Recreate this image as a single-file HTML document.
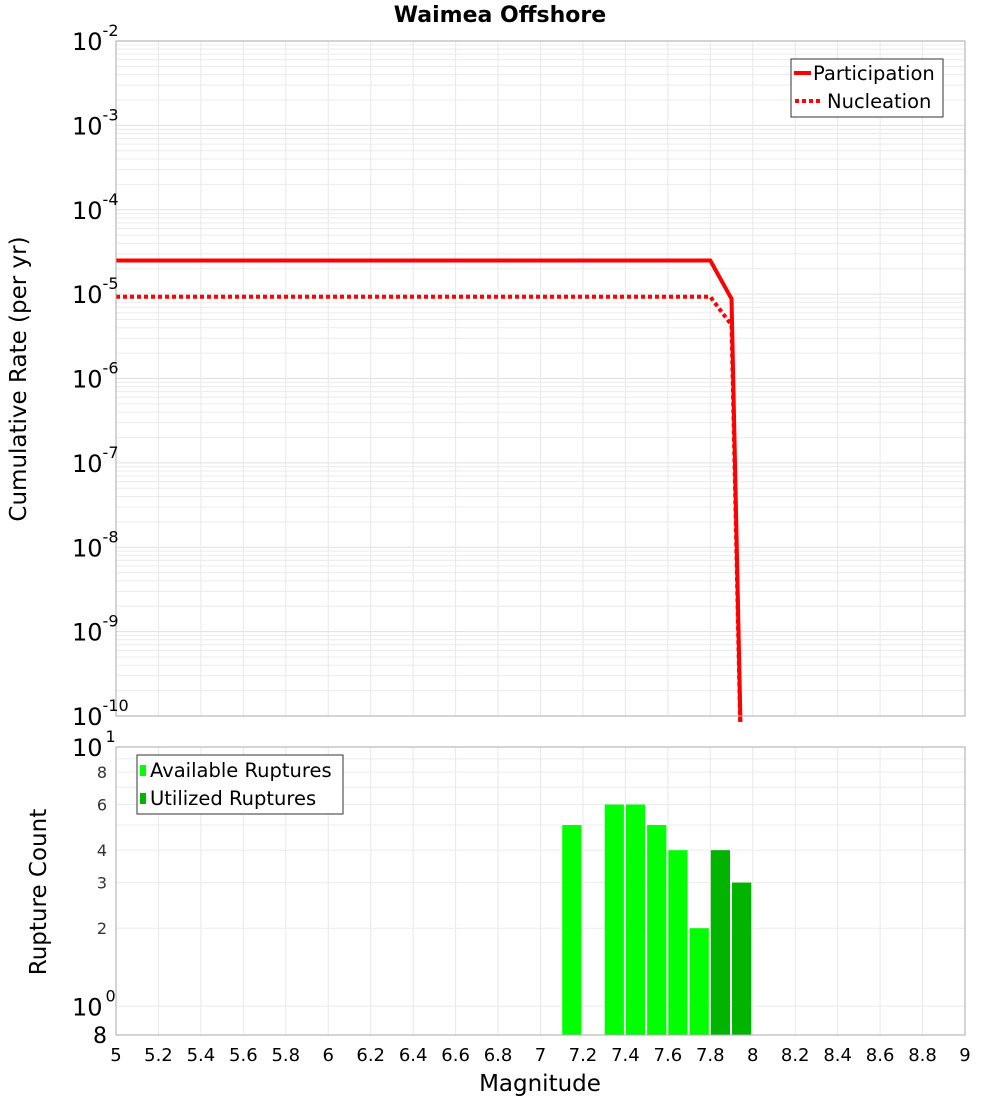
<!DOCTYPE html>
<html><head><meta charset="utf-8"><style>
html,body{margin:0;padding:0;background:#fff;overflow:hidden;width:1000px;height:1100px;font-family:"DejaVu Sans","Liberation Sans",sans-serif;}
svg{display:block;}
svg text{font-family:"DejaVu Sans","Liberation Sans",sans-serif;}
</style></head><body>
<svg id="c" width="1000" height="1100" xmlns="http://www.w3.org/2000/svg"></svg>
<script>
const mags=[5,7.8,7.9,8.0];
const partRates=[2.5e-5,2.5e-5,8.8e-6,1e-17];
const nuclRates=[9.3e-6,9.3e-6,4.3e-6,1e-17];
const binStarts=[7.1,7.2,7.3,7.4,7.5,7.6,7.7,7.8,7.9];
const availCounts=[5,0,6,6,5,4,2,0,0];
const utilCounts=[0,0,0,0,0,0,0,4,3];
const xTicks=[5,5.2,5.4,5.6,5.8,6,6.2,6.4,6.6,6.8,7,7.2,7.4,7.6,7.8,8,8.2,8.4,8.6,8.8,9];
const topExps=[-2,-3,-4,-5,-6,-7,-8,-9,-10];
const botTicks=[8,6,4,3,2];

const NS="http://www.w3.org/2000/svg";
const svg=document.getElementById('c');
function el(t,a,txt){const e=document.createElementNS(NS,t);for(const k in a)e.setAttribute(k,a[k]);if(txt!==undefined)e.textContent=txt;svg.appendChild(e);return e;}
const L=116,R=965,T1=41,B1=716,T2=747,B2=1035;
const x=m=>L+(m-5)/4*(R-L);
const y1=v=>T1+(-2-Math.log10(v))/8*(B1-T1);
const bMin=0.775;
const y2=v=>T2+(1-Math.log10(v))/(1-Math.log10(bMin))*(B2-T2);

for(let e=-10;e<-2;e++)for(let k=1;k<10;k++){const yy=y1(k*Math.pow(10,e));
 const g=el('line',{x1:L,x2:R,y1:yy,y2:yy,stroke:k==1?'#e0e0e0':'#ececec','stroke-width':1});
 }
xTicks.forEach(t=>{[[T1,B1],[T2,B2]].forEach(([a,b])=>{const g=el('line',{x1:x(t),x2:x(t),y1:a,y2:b,stroke:'#e8e8e8'});
 });});
[1,8,6,4,3,2,10,9,7,5].forEach(v=>{const yy=y2(v);const g=el('line',{x1:L,x2:R,y1:yy,y2:yy,stroke:'#ececec'});
 });

const defs=el('defs',{});
const cp=document.createElementNS(NS,'clipPath');cp.setAttribute('id','cp');
const cr=document.createElementNS(NS,'rect');cr.setAttribute('x',L);cr.setAttribute('y',T1);cr.setAttribute('width',R-L);cr.setAttribute('height',B1-T1+6);
cp.appendChild(cr);defs.appendChild(cp);

function line(rates,dash,name){
 const p=el('polyline',{points:mags.map((m,i)=>x(m)+','+y1(rates[i])).join(' '),fill:'none',stroke:'#ff0000','stroke-width':4,'clip-path':'url(#cp)'});
 if(dash)p.setAttribute('stroke-dasharray','4,3');
 }
line(nuclRates,true,'nucleation-line');
line(partRates,false,'participation-line');

binStarts.forEach((b,i)=>{[[availCounts[i],'#00ff00','available-bar'],[utilCounts[i],'#00b400','utilized-bar']].forEach(([v,c,n])=>{
 if(v<=0)return;const yy=y2(v);
 const r=el('rect',{x:x(b)+0.5,y:yy,width:x(b+0.1)-x(b)-2,height:B2-yy,fill:c});
 });});

[[T1,B1,'top-plot-frame'],[T2,B2,'bottom-plot-frame']].forEach(([a,b,n])=>{const r=el('rect',{x:L,y:a,width:R-L,height:b-a,fill:'none',stroke:'#aaaaaa'});
 });

topExps.forEach(e=>{const yy=y1(Math.pow(10,e));
 const t=el('text',{x:72,y:yy+9,'font-size':24});
 
 t.textContent='10';
 const s=document.createElementNS(NS,'tspan');s.setAttribute('font-size',16);s.setAttribute('dy',-14);s.textContent=String(e);t.appendChild(s);});
[[10,'1'],[1,'0']].forEach(([v,e])=>{const yy=y2(v);
 const t=el('text',{x:72,y:yy+9,'font-size':24},'10');
 
 const s=document.createElementNS(NS,'tspan');s.setAttribute('font-size',16);s.setAttribute('dy',-14);s.setAttribute('dx',3);s.textContent=e;t.appendChild(s);});
botTicks.forEach(v=>{const t=el('text',{x:107,y:y2(v)+6,'text-anchor':'end','font-size':16,fill:'#333'},String(v));
 });
{const t=el('text',{x:107,y:1043,'text-anchor':'end','font-size':22},'8');}
xTicks.forEach(m=>{const t=el('text',{x:x(m),y:1061,'text-anchor':'middle','font-size':18},String(m));
 });

let t;
t=el('text',{x:500,y:22,'text-anchor':'middle','font-size':22,'font-weight':'bold'},'Waimea Offshore');
t=el('text',{x:540,y:1091,'text-anchor':'middle','font-size':23},'Magnitude');
t=el('text',{x:26,y:379,'text-anchor':'middle','font-size':23,transform:'rotate(-90 26 379)'},'Cumulative Rate (per yr)');
t=el('text',{x:46,y:892,'text-anchor':'middle','font-size':23,transform:'rotate(-90 46 892)'},'Rupture Count');

let r=el('rect',{x:791,y:59,width:152,height:58,fill:'#fff',stroke:'#333'});
let l=el('line',{x1:794,x2:811,y1:73,y2:73,stroke:'#f00','stroke-width':4});
t=el('text',{x:813,y:80,'font-size':19.5},'Participation');
l=el('line',{x1:795,x2:821,y1:101,y2:101,stroke:'#f00','stroke-width':4,'stroke-dasharray':'4,3'});
t=el('text',{x:827,y:108,'font-size':19.5},'Nucleation');

r=el('rect',{x:137,y:755,width:206,height:59,fill:'#fff',stroke:'#333'});
r=el('rect',{x:140,y:765,width:6,height:11,fill:'#00ff00'});
t=el('text',{x:150,y:777,'font-size':19.5},'Available Ruptures');
r=el('rect',{x:140,y:793,width:6,height:11,fill:'#00b400'});
t=el('text',{x:150,y:805,'font-size':19.5},'Utilized Ruptures');
</script>
</body></html>
